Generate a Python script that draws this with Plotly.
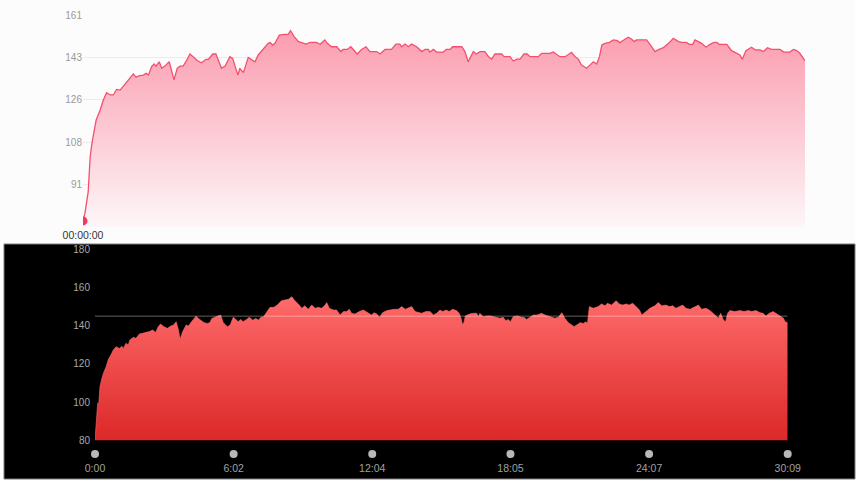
import plotly.graph_objects as go

# ---------------- data: top panel (pink, light background) ----------------
top_t = [0, 5, 13, 18, 23,
         33, 43, 51, 59, 68, 76, 84, 93, 101, 109,
         118, 126, 133, 141, 151, 158, 164, 172, 178, 183,
         191, 197, 205, 216, 228, 236, 243, 251, 260, 268,
         276, 286, 297, 308, 314, 325, 333, 347, 356, 368,
         375, 388, 393, 402, 414, 423, 431, 439, 452, 464,
         469, 475, 481, 492, 506, 514, 520, 529, 540, 550,
         559, 569, 585, 594,
         606, 612, 623, 636, 646, 652, 662, 671, 677, 687,
         698, 709, 719, 736, 744, 757, 773, 784, 794, 798,
         807, 815, 823, 836, 849, 857, 865, 869, 878, 886,
         903, 910, 920, 926, 949, 957, 965, 971, 978, 985,
         995, 1007, 1016, 1024, 1032, 1049, 1055, 1070, 1078, 1087,
         1095, 1105, 1113, 1120, 1141, 1149, 1170, 1178, 1187, 1195,
         1208,
         1216, 1224, 1233, 1241, 1249, 1262, 1270, 1279, 1287, 1294,
         1300, 1308, 1319, 1329, 1339, 1345, 1355, 1366, 1375, 1381,
         1387, 1396, 1412, 1422, 1433, 1441, 1454, 1467, 1479, 1492,
         1500, 1512, 1519, 1528, 1533, 1542, 1550, 1561, 1571, 1581,
         1588, 1594, 1613, 1625, 1638, 1646, 1652, 1661, 1675, 1684,
         1696, 1705, 1715, 1725, 1746, 1756, 1771, 1780, 1788, 1796,
         1809]
top_hr = [76, 79.3, 88, 102.5, 108.7,
          117.7, 121.8, 125.9, 128.9, 128.0, 128.0, 130.3, 130.0, 131.7, 133.1,
          134.9, 136.6, 135.3, 136.0, 136.2, 136.9, 136.2, 139.7, 140.8, 139.9,
          141.7, 139.0, 139.9, 141.7, 134.2, 139.0, 139.9, 139.9, 142.4, 144.9,
          143.8, 142.2, 141.3, 142.7, 142.7, 144.9, 144.9, 139.0, 139.9, 143.8,
          143.1, 136.2, 139.0, 137.2, 143.5, 142.4, 141.7, 144.5, 146.8, 149.3,
          149.6, 148.6, 149.3, 152.7, 153.0, 153.0, 154.5, 152.1, 150.0, 149.6,
          149.0, 149.7, 149.7, 148.9,
          150.7, 149.3, 147.9, 147.9, 145.9, 146.8, 146.8, 147.9, 146.8, 144.9,
          146.8, 147.9, 145.9, 145.9, 144.9, 146.8, 146.8, 149.0, 149.0, 147.9,
          149.0, 147.9, 149.0, 147.9, 145.9, 146.8, 146.8, 145.7, 146.8, 145.7,
          145.7, 146.8, 146.8, 147.9, 147.9, 145.9, 141.7, 143.8, 145.9, 144.9,
          145.9, 145.9, 143.8, 142.8, 144.9, 144.9, 143.8, 143.8, 142.0, 142.8,
          142.8, 144.9, 144.9, 143.8, 143.8, 145.2, 145.2, 145.7, 144.8, 143.8,
          143.8,
          144.9, 145.6, 143.8, 142.8, 140.3, 139.0, 140.3, 141.7, 140.8, 143.8,
          148.6, 149.3, 149.7, 150.7, 150.4, 149.6, 150.7, 151.8, 151.0, 150.0,
          150.7, 150.7, 150.7, 148.6, 145.9, 146.6, 147.5, 149.3, 151.4, 150.0,
          149.7, 149.7, 148.9, 148.9, 150.7, 150.0, 149.3, 147.7, 148.9, 149.7,
          149.7, 148.9, 148.9, 146.3, 145.2, 144.5, 142.7, 146.3, 147.7, 146.6,
          146.6, 145.9, 147.5, 146.8, 146.8, 145.7, 145.7, 146.8, 146.3, 145.2,
          142.1]
top_tickvals = [73.5, 91, 108.5, 126, 143.5, 161]
top_ticktext = ["", "91", "108", "126", "143", "161"]
top_xlabel = "00:00:00"

# ---------------- data: bottom panel (red, black background) ----------------
bot_t = [0, 1, 4, 7, 10, 13, 17, 22, 29, 35,
         41, 48, 55, 64, 70, 74, 81, 87, 91, 100,
         107, 116, 124, 133, 142, 151, 158, 165, 171, 180,
         189, 198, 205, 212, 218, 222, 229, 238, 244, 252,
         264, 270, 276, 285, 293, 300, 305, 313, 320, 328,
         335, 346, 353, 361, 368, 374, 380, 387, 396, 403,
         412, 420, 427, 433, 440, 448, 457, 467, 476, 487,
         496, 505, 514, 522, 531, 540, 548, 557, 566, 575,
         583, 592, 601,
         605, 612, 622, 631, 640, 649, 657, 664, 670, 679,
         690, 701, 714, 722, 729, 736, 743, 751, 762, 770,
         781, 792, 801, 810, 818, 827, 836, 844, 853, 864,
         875, 884, 892, 901, 908, 917, 925, 934, 944, 951,
         956, 960, 964, 967, 978, 988, 997, 1001, 1005, 1014,
         1023, 1033, 1045, 1058, 1066, 1073, 1079, 1085, 1092, 1103,
         1114, 1120, 1127, 1136, 1145, 1155, 1166, 1175, 1184, 1193,
         1201,
         1210, 1219, 1227, 1236, 1245, 1251, 1258, 1267, 1275, 1282,
         1286, 1291, 1301, 1314, 1323, 1332, 1338, 1349, 1361, 1369,
         1378, 1387, 1395, 1404, 1413, 1422, 1428, 1436, 1449, 1462,
         1471, 1480, 1491, 1500, 1509, 1517, 1528, 1535, 1543, 1554,
         1564, 1576, 1584, 1596, 1606, 1615, 1622, 1628, 1634, 1641,
         1647, 1652, 1658, 1671, 1684, 1695, 1706, 1715, 1726, 1737,
         1745, 1752, 1761, 1771, 1780, 1789, 1798, 1802, 1808, 1809]
bot_hr = [80.2, 82.8, 87.1, 99.4, 99.4, 108.1, 111.6, 115.1, 118.5, 122.5,
          124.5, 127.3, 129.0, 128.1, 129.3, 128.1, 130.8, 129.9, 132.5, 133.9,
          133.4, 135.7, 136.0, 136.4, 136.9, 137.8, 136.4, 139.5, 140.9, 139.5,
          138.6, 139.8, 140.4, 142.1, 137.8, 132.9, 136.9, 140.4, 139.8, 142.1,
          145.0, 143.8, 142.9, 141.6, 141.2, 141.6, 143.8, 144.4, 145.0, 145.6,
          141.6, 139.5, 140.4, 144.4, 143.3, 142.1, 143.3, 142.1, 143.3, 144.4,
          142.9, 143.8, 142.9, 144.4, 144.7, 147.3, 149.6, 149.6, 150.8, 153.1,
          153.5, 153.8, 155.2, 153.1, 151.4, 149.1, 150.4, 148.6, 150.8, 149.1,
          149.6, 149.1, 150.8,
          152.1, 149.1, 148.2, 148.2, 145.6, 147.4, 147.4, 148.6, 146.5, 146.1,
          147.4, 148.2, 146.5, 145.6, 146.8, 146.1, 144.4, 146.8, 147.9, 148.2,
          148.6, 148.6, 150.0, 148.6, 149.1, 150.0, 147.4, 146.8, 146.5, 147.4,
          147.4, 145.6, 146.5, 148.2, 147.4, 148.2, 147.4, 148.6, 147.9, 146.5,
          143.9, 140.4, 142.1, 145.1, 146.1, 146.5, 146.5, 144.7, 146.5, 144.7,
          145.1, 145.1, 144.4, 143.9, 144.4, 142.6, 143.3, 142.1, 144.7, 145.1,
          144.4, 144.4, 143.3, 144.4, 145.6, 145.6, 146.5, 145.6, 145.1, 144.4,
          143.9,
          144.4, 146.8, 143.9, 141.6, 140.4, 139.5, 140.4, 141.6, 141.2, 142.1,
          141.2, 150.0, 149.1, 150.0, 151.4, 150.4, 151.7, 150.8, 153.1, 151.4,
          150.8, 151.4, 150.8, 151.7, 150.0, 148.2, 145.6, 146.8, 149.1, 150.4,
          152.1, 150.4, 150.8, 150.0, 150.4, 149.1, 150.0, 150.8, 149.1, 148.6,
          149.6, 150.8, 148.6, 149.1, 147.9, 146.5, 145.1, 143.9, 146.5, 143.0,
          142.1, 146.5, 147.9, 147.4, 147.9, 147.4, 147.9, 147.4, 147.9, 146.8,
          146.5, 145.1, 146.5, 147.4, 146.1, 145.1, 143.9, 142.1, 141.6, 141.6]
bot_avg = 145
bot_xtick_vals = [0, 362, 724, 1085, 1447, 1809]
bot_xtick_text = ["0:00", "6:02", "12:04", "18:05", "24:07", "30:09"]
bot_ytick_vals = [80, 100, 120, 140, 160, 180]

assert len(top_t) == len(top_hr)
assert len(bot_t) == len(bot_hr)

W, H = 860, 484
def px(x):
    return x / W
def py(y):
    return 1 - y / H

FONT = "Liberation Sans, Arial, Helvetica, sans-serif"

fig = go.Figure()

# top panel
fig.add_trace(go.Scatter(
    x=top_t, y=top_hr, xaxis="x", yaxis="y", mode="lines",
    line=dict(color="#f4506e", width=1.3),
    fill="tozeroy",
    fillgradient=dict(type="vertical", colorscale=[[0, "#fdf6f8"], [1, "#fb9aad"]],
                      start=73.5, stop=156),
    hoverinfo="skip"))
fig.add_trace(go.Scatter(
    x=top_t[:1], y=top_hr[:1], xaxis="x", yaxis="y", mode="markers",
    marker=dict(size=9, color="#f03a5f"), hoverinfo="skip"))

# bottom panel
fig.add_trace(go.Scatter(
    x=bot_t, y=bot_hr, xaxis="x2", yaxis="y2", mode="lines",
    line=dict(color="#ff6a6a", width=0.6),
    fill="tozeroy",
    fillgradient=dict(type="vertical", colorscale=[[0, "#dc2828"], [1, "#ff6b6b"]],
                      start=80, stop=155),
    hoverinfo="skip"))
fig.add_trace(go.Scatter(
    x=[bot_t[0], bot_t[-1]], y=[bot_avg, bot_avg], xaxis="x2", yaxis="y2",
    mode="lines", line=dict(color="rgba(255,255,255,0.38)", width=1), hoverinfo="skip"))
# tick dots row (own thin axis under the bottom panel)
fig.add_trace(go.Scatter(
    x=bot_xtick_vals, y=[0] * len(bot_xtick_vals), xaxis="x2", yaxis="y3",
    mode="markers", marker=dict(size=8, color="#b8b8b8"), cliponaxis=False,
    hoverinfo="skip"))

fig.update_layout(
    template="none",
    width=W, height=H, autosize=False,
    margin=dict(l=0, r=0, t=0, b=0, pad=0),
    paper_bgcolor="white", plot_bgcolor="rgba(0,0,0,0)",
    showlegend=False,
    font=dict(family=FONT),
    xaxis=dict(domain=[px(83), px(805)], anchor="y", range=[0, 1809],
               automargin=False,
               showgrid=False, zeroline=False, showline=False, ticks="",
               tickvals=[0], ticktext=[top_xlabel],
               tickfont=dict(color="#333333", size=10.5)),
    yaxis=dict(domain=[py(227), py(15)], anchor="x", range=[73.5, 161],
               automargin=False,
               tickvals=top_tickvals, ticktext=top_ticktext,
               showgrid=True, gridcolor="#ececec", gridwidth=1,
               zeroline=False, showline=False, ticks="",
               tickfont=dict(color="#9a9a9a", size=10)),
    xaxis2=dict(domain=[px(95), px(787.7)], anchor="y2", range=[0, 1809],
                automargin=False,
                showgrid=False, zeroline=False, showline=False, ticks="",
                tickvals=bot_xtick_vals, ticktext=bot_xtick_text,
                ticklabelstandoff=20,
                tickfont=dict(color="#a0a0a0", size=10.5)),
    yaxis2=dict(domain=[py(440.3), py(249.3)], anchor="x2", range=[80, 180],
                automargin=False,
                tickvals=bot_ytick_vals, showgrid=False, zeroline=False,
                showline=False, ticks="", ticklabelstandoff=4,
                tickfont=dict(color="#a8a8a8", size=10)),
    yaxis3=dict(domain=[py(464), py(444)], anchor="x2", range=[-1, 1],
                automargin=False, visible=False, showgrid=False, zeroline=False),
    shapes=[
        dict(type="rect", xref="paper", yref="paper", x0=0, x1=px(855),
             y0=py(243), y1=1, fillcolor="#fcfcfc", line=dict(width=0), layer="below"),
        dict(type="rect", xref="paper", yref="paper", x0=px(4), x1=px(855),
             y0=py(479), y1=py(244), fillcolor="black",
             line=dict(color="#7a7a7a", width=1), layer="below"),
    ],
)

fig.write_html("out.html", config={"displayModeBar": False},
               post_script="document.body.style.margin='0';")
